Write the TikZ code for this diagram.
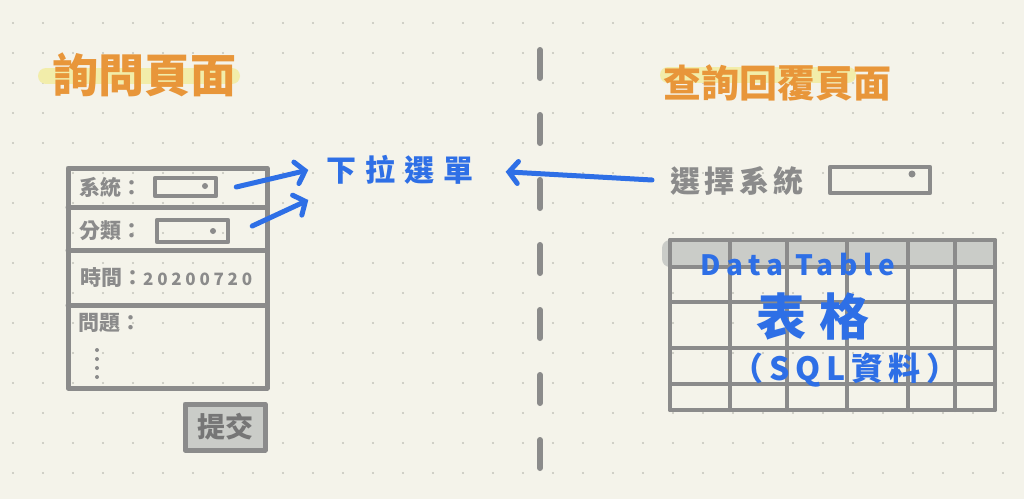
\documentclass[tikz,border=0pt]{standalone}
\usepackage{fontspec}
\setmainfont{Noto Sans CJK TC}
\usetikzlibrary{positioning,arrows.meta}

\definecolor{paper}{HTML}{F4F3EA}
\definecolor{griddot}{HTML}{C4C4BB}
\definecolor{inkgrey}{HTML}{8B8B8B}
\definecolor{titleorange}{HTML}{E8963A}
\definecolor{markyellow}{HTML}{F2EDAA}
\definecolor{inkblue}{HTML}{2E6FE6}
\definecolor{headgrey}{HTML}{CACCC8}

\newcommand{\fsz}[1]{\fontsize{#1}{#1}\selectfont}

\tikzset{
  sketch/.style={draw=inkgrey, line width=5pt, line cap=round, line join=round},
  dropbox/.style={sketch, line width=4.5pt, rectangle, inner sep=0pt},
  divider/.style={draw=inkgrey, line width=6pt, line cap=round, dash pattern=on 28pt off 37pt},
  marker/.style={draw=markyellow, line width=16pt, line cap=round},
  inkarrow/.style={draw=inkblue, line width=5pt, line cap=round,
    -{Straight Barb[length=9pt,width=22pt,line cap=round]}},
  title/.style={text=titleorange, inner sep=0pt, font=\bfseries\fsz{46pt}},
  greytext/.style={text=inkgrey, inner sep=0pt, anchor=west, font=\bfseries\fsz{21pt}},
  bluetext/.style={text=inkblue, inner sep=0pt, font=\bfseries\fsz{30pt}}
}

\begin{document}
\begin{tikzpicture}[x=1pt, y=-1pt]
    % paper with dot grid
    \fill[paper] (0,0) rectangle (1024,499);
    \foreach \x in {13,43,...,1003}
        \foreach \y in {23,53,...,493}
            \fill[griddot] (\x,\y) circle (1.2pt);

    \draw[divider] (540,50) -- (540,472);

    % left page
    \draw[marker] (46,76) -- (232,76);
    \node[title] (askTitle) at (144,75) {詢問頁面};

    \draw[sketch] (68,168) rectangle (267,388);
    \draw[sketch] (68,207) -- (267,207);
    \draw[sketch] (68,250) -- (267,250);
    \draw[sketch] (68,305) -- (267,305);

    \node[greytext] (sysLabel) at (79,187) {系統：};
    \node[dropbox, minimum width=61pt, minimum height=18pt] (sysDrop) at (185.5,187) {};
    \fill[inkgrey] (205,186) circle (3pt);
    \node[greytext] (catLabel) at (79,231) {分類：};
    \node[dropbox, minimum width=71pt, minimum height=22pt] (catDrop) at (192.5,231) {};
    \fill[inkgrey] (213,231) circle (3pt);
    \node[greytext] (timeLabel) at (80,278) {時間：{\addfontfeature{LetterSpace=22}\fsz{17pt}20200720}};
    \node[greytext] (qLabel) at (78,323) {問題：};
    \foreach \y in {350,359,368,377}
        \fill[inkgrey] (97,\y) circle (2pt);

    \node[sketch, fill=headgrey, minimum width=80pt, minimum height=46pt,
          text=inkgrey!85!black, font=\bfseries\fsz{28pt}] (submit) at (225,427) {提交};

    % drop-down hint
    \node[bluetext, font=\bfseries\fsz{30pt}\addfontfeature{LetterSpace=30}] (menu) at (400,170) {下拉選單};
    \coordinate[right=18pt of sysDrop] (sysTail);
    \coordinate[right=22pt of catDrop, yshift=5pt] (catTail);
    \draw[inkarrow] (sysTail) -- ([xshift=-18pt]menu.west);
    \draw[inkarrow] (catTail) -- ([shift={(-18,30)}]menu.west);

    % right page
    \draw[marker] (668,75) -- (848,75);
    \node[title, font=\bfseries\fsz{38pt}] (replyTitle) at (777,83) {查詢回覆頁面};

    \node[greytext, font=\bfseries\fsz{30pt}\addfontfeature{LetterSpace=15}] (pickLabel) at (670,181) {選擇系統};
    \node[dropbox, minimum width=100pt, minimum height=26pt] (pickDrop) at (880,180) {};
    \fill[inkgrey] (912,174) circle (3.5pt);
    \draw[inkarrow, shorten <=18pt, shorten >=32pt] (pickLabel.west) -- (menu.east);

    % data table
    \fill[headgrey, rounded corners=8pt] (662,240) rectangle (995,267);
    \foreach \y in {240,267,302,348,384,410}
        \draw[sketch, line width=4pt] (670,\y) -- (995,\y);
    \foreach \x in {670,730,787,847,908,955,995}
        \draw[sketch, line width=4pt] (\x,240) -- (\x,410);

    \node[bluetext, font=\bfseries\fsz{28pt}\addfontfeature{LetterSpace=20}] (tableName) at (798,265) {Data Table};
    \node[bluetext, font=\bfseries\fsz{50pt}\addfontfeature{LetterSpace=25}] (tableWord) at (813,316) {表格};
    \node[bluetext, font=\bfseries\fsz{32pt}\addfontfeature{LetterSpace=18}] (tableSrc) at (845,370) {（SQL資料）};
\end{tikzpicture}
\end{document}
